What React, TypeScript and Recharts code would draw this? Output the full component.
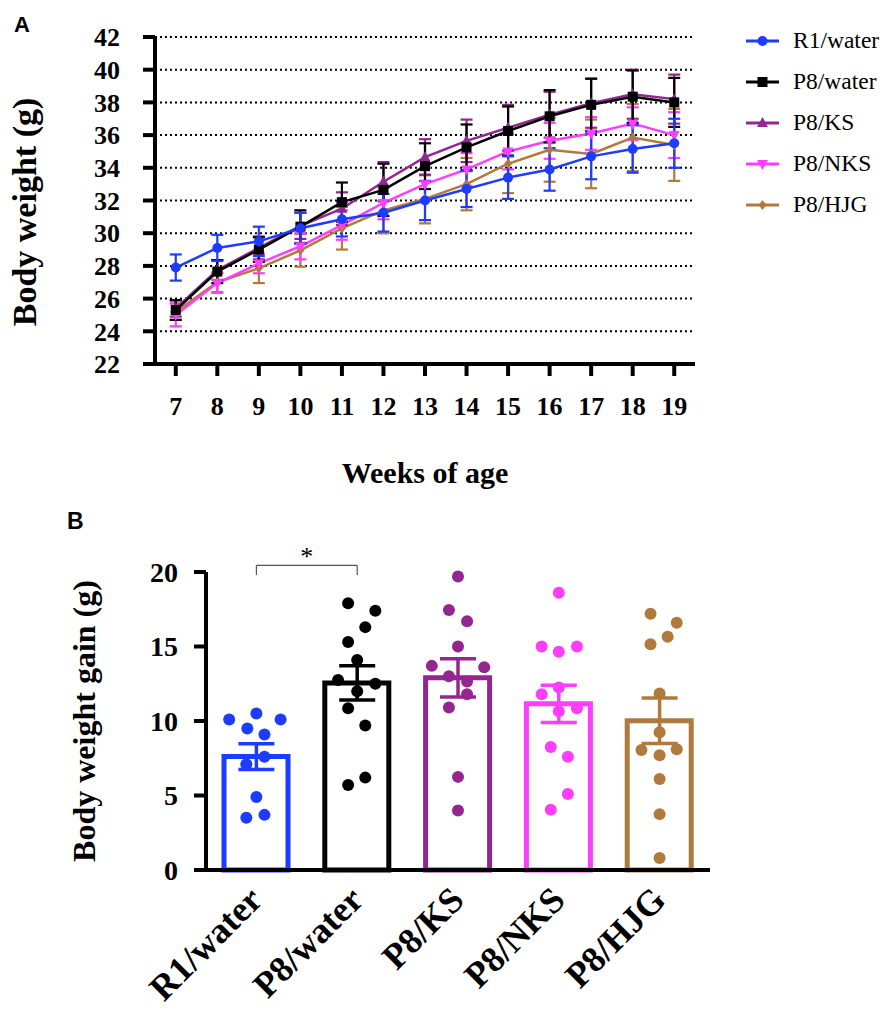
import React from "react";
import {
  LineChart,
  Line,
  XAxis,
  YAxis,
  CartesianGrid,
  ErrorBar,
  Legend,
  ComposedChart,
  Bar,
  Cell,
  Scatter,
  ReferenceLine,
} from "recharts";

const serif = "'Liberation Serif', 'Times New Roman', Times, serif";
const sans = "'Liberation Sans', Arial, Helvetica, sans-serif";

const BLUE = "#1e3cff";
const BLACK = "#000000";
const PURPLE = "#93278f";
const PINK = "#ff3dff";
const BROWN = "#b07a3c";

// ---- Panel A: body weight by week (mean, SEM) ----
const weeks = [7, 8, 9, 10, 11, 12, 13, 14, 15, 16, 17, 18, 19];
const weightTicks = [22, 24, 26, 28, 30, 32, 34, 36, 38, 40, 42];

const r1Water = [27.9, 29.1, 29.5, 30.3, 30.85, 31.25, 32.0, 32.7, 33.4, 33.9, 34.7, 35.15, 35.5];
const r1WaterSem = [0.8, 0.8, 0.9, 0.95, 1.05, 1.15, 1.2, 1.1, 1.3, 1.3, 1.4, 1.45, 1.5];
const p8Water = [25.3, 27.65, 29.0, 30.4, 31.9, 32.65, 34.1, 35.25, 36.25, 37.15, 37.85, 38.35, 38.0];
const p8WaterSem = [0.6, 0.7, 0.75, 1.0, 1.2, 1.6, 1.4, 1.4, 1.5, 1.6, 1.6, 1.6, 1.5];
const p8Ks = [25.4, 27.75, 29.1, 30.45, 31.5, 33.15, 34.65, 35.65, 36.45, 37.25, 37.95, 38.5, 38.2];
const p8KsSem = [0.5, 0.6, 0.7, 0.8, 1.0, 1.2, 1.1, 1.3, 1.4, 1.4, 1.5, 1.5, 1.5];
const p8Nks = [25.0, 26.95, 28.15, 29.2, 30.5, 31.85, 33.0, 33.9, 35.0, 35.65, 36.1, 36.7, 36.0];
const p8NksSem = [0.7, 0.6, 0.6, 0.8, 0.9, 1.0, 1.0, 1.0, 1.1, 1.1, 1.0, 1.0, 1.4];
const p8Hjg = [25.2, 27.0, 27.85, 28.95, 30.3, 31.4, 32.1, 33.0, 34.25, 35.1, 34.85, 35.85, 35.4];
const p8HjgSem = [0.5, 0.6, 0.9, 1.0, 1.3, 1.4, 1.5, 1.6, 1.8, 1.95, 2.1, 2.05, 2.2];

const SERIES = [
  { key: "r1", name: "R1/water", values: r1Water, sem: r1WaterSem, color: BLUE, marker: "circle" },
  { key: "p8", name: "P8/water", values: p8Water, sem: p8WaterSem, color: BLACK, marker: "square" },
  { key: "ks", name: "P8/KS", values: p8Ks, sem: p8KsSem, color: PURPLE, marker: "up" },
  { key: "nks", name: "P8/NKS", values: p8Nks, sem: p8NksSem, color: PINK, marker: "down" },
  { key: "hjg", name: "P8/HJG", values: p8Hjg, sem: p8HjgSem, color: BROWN, marker: "diamond" },
];

const weightRows = weeks.map((week, i) => {
  const row: Record<string, number> = { week };
  SERIES.forEach((s) => {
    row[s.key] = s.values[i];
    row[s.key + "Err"] = s.sem[i];
  });
  return row;
});

// ---- Panel B: body weight gain per animal ----
const groups = ["R1/water", "P8/water", "P8/KS", "P8/NKS", "P8/HJG"];
const groupColors = [BLUE, BLACK, PURPLE, PINK, BROWN];
const gainTicks = [0, 5, 10, 15, 20];

const r1Gain = [10.1, 10.5, 10.1, 9.5, 9.1, 7.6, 7.1, 4.9, 3.5, 3.7];
const p8Gain = [17.9, 17.4, 16.3, 15.3, 14.1, 12.75, 12.5, 12.0, 10.85, 9.7, 6.2, 5.7];
const ksGain = [19.7, 17.45, 16.7, 15.0, 13.7, 13.6, 13.0, 12.65, 11.8, 10.9, 6.25, 4.0];
const nksGain = [18.6, 15.0, 14.65, 15.0, 12.25, 11.8, 10.65, 10.85, 8.25, 7.6, 5.1, 4.05];
const hjgGain = [17.2, 16.6, 15.65, 15.15, 11.85, 9.25, 8.05, 7.7, 8.1, 6.1, 3.75, 0.8];

// horizontal scatter of each dot, as a fraction of one category
const r1Spread = [-0.27, 0, 0.24, -0.09, 0.08, 0.08, -0.1, 0, -0.1, 0.08];
const p8Spread = [-0.09, 0.18, 0.08, -0.09, 0, -0.19, 0.18, 0, -0.09, 0.08, 0.08, -0.09];
const ksSpread = [0, -0.09, 0.09, 0, -0.26, 0.26, -0.09, 0.09, 0.09, -0.09, 0, 0];
const nksSpread = [0, -0.17, 0, 0.18, 0, -0.17, 0, 0.18, -0.08, 0.09, 0.09, -0.08];
const hjgSpread = [-0.09, 0.17, 0.08, -0.09, 0, 0, -0.18, 0, 0.17, 0, 0, 0];

const gains = [r1Gain, p8Gain, ksGain, nksGain, hjgGain];
const spreads = [r1Spread, p8Spread, ksSpread, nksSpread, hjgSpread];

const mean = (a: number[]) => a.reduce((s, v) => s + v, 0) / a.length;
const semOf = (a: number[]) => {
  const m = mean(a);
  const sd = Math.sqrt(a.reduce((s, v) => s + (v - m) ** 2, 0) / (a.length - 1));
  return sd / Math.sqrt(a.length);
};

const gainRows = groups.map((group, i) => ({
  group,
  x: i + 1,
  mean: mean(gains[i]),
  sem: semOf(gains[i]),
}));

function Marker({ cx, cy, shape, color }: any) {
  if (cx == null || cy == null) return null;
  if (shape === "circle") return <circle cx={cx} cy={cy} r={5} fill={color} />;
  if (shape === "square") return <rect x={cx - 5} y={cy - 5} width={10} height={10} fill={color} />;
  if (shape === "up")
    return <path d={`M${cx},${cy - 6}L${cx + 5.5},${cy + 4}L${cx - 5.5},${cy + 4}Z`} fill={color} />;
  if (shape === "down")
    return <path d={`M${cx},${cy + 6}L${cx + 5.5},${cy - 4}L${cx - 5.5},${cy - 4}Z`} fill={color} />;
  return <path d={`M${cx},${cy - 5}L${cx + 4},${cy}L${cx},${cy + 5}L${cx - 4},${cy}Z`} fill={color} />;
}

function WeightLegend() {
  return (
    <div style={{ fontFamily: serif, fontSize: 23.5, color: "#000" }}>
      {SERIES.map((s) => (
        <div key={s.key} style={{ display: "flex", alignItems: "center", height: 41 }}>
          <svg width={48} height={16} style={{ marginRight: 3 }}>
            <line x1={4} y1={8} x2={37} y2={8} stroke={s.color} strokeWidth={3} />
            <Marker cx={20.5} cy={8} shape={s.marker} color={s.color} />
          </svg>
          <span>{s.name}</span>
        </div>
      ))}
    </div>
  );
}

function WeightAxisTitle() {
  return (
    <text
      x={36}
      y={212}
      transform="rotate(-90, 36, 212)"
      textAnchor="middle"
      fontFamily={serif}
      fontWeight="bold"
      fontSize={34}
      fill="#000"
    >
      Body weight (g)
    </text>
  );
}

function GroupTick({ x, y, payload }: any) {
  const tx = x + 8;
  const ty = y + 32;
  return (
    <text
      x={tx}
      y={ty}
      transform={`rotate(-45, ${tx}, ${ty})`}
      textAnchor="end"
      fontFamily={serif}
      fontWeight="bold"
      fontSize={36}
      fill="#000"
    >
      {payload.value}
    </text>
  );
}

const tickFont = { fill: "#000", fontSize: 26, fontWeight: "bold", fontFamily: serif };
const axisStroke = { stroke: "#000", strokeWidth: 4 };

export default function App() {
  return (
    <div
      style={{
        position: "absolute",
        left: 0,
        top: 0,
        width: 884,
        height: 1010,
        background: "#fff",
        overflow: "hidden",
      }}
    >
      <div style={{ position: "absolute", left: 14, top: 14, fontFamily: sans, fontWeight: "bold", fontSize: 22, lineHeight: 1 }}>
        A
      </div>
      <div style={{ position: "absolute", left: 67, top: 510, fontFamily: sans, fontWeight: "bold", fontSize: 23, lineHeight: 1 }}>
        B
      </div>

      <div style={{ position: "absolute", left: 0, top: 0 }}>
        <LineChart width={884} height={500} data={weightRows} margin={{ top: 37, right: 189, bottom: 0, left: 0 }}>
          <CartesianGrid vertical={false} stroke="#000" strokeWidth={2} strokeDasharray="2 3" />
          <XAxis
            dataKey="week"
            type="number"
            domain={[6.5, 19.5]}
            ticks={weeks}
            interval={0}
            height={136}
            tick={tickFont}
            tickSize={12}
            tickMargin={21}
            axisLine={axisStroke}
            tickLine={axisStroke}
            label={{
              value: "Weeks of age",
              position: "insideBottom",
              offset: 17,
              fill: "#000",
              fontSize: 30,
              fontWeight: "bold",
              fontFamily: serif,
            }}
          />
          <YAxis
            type="number"
            domain={[22, 42]}
            ticks={weightTicks}
            interval={0}
            width={155}
            tick={tickFont}
            tickSize={12}
            tickMargin={23}
            axisLine={axisStroke}
            tickLine={axisStroke}
            label={{ content: () => <WeightAxisTitle /> }}
          />
          <Legend
            layout="vertical"
            align="center"
            verticalAlign="middle"
            wrapperStyle={{ left: 742, top: 20, width: 142 }}
            content={() => <WeightLegend />}
          />
          {[...SERIES].reverse().map((s) => (
            <Line
              key={s.key}
              dataKey={s.key}
              name={s.name}
              type="linear"
              stroke={s.color}
              strokeWidth={2.5}
              isAnimationActive={false}
              dot={(p: any) => <Marker key={`${s.key}-${p.index}`} cx={p.cx} cy={p.cy} shape={s.marker} color={s.color} />}
              activeDot={false}
            >
              <ErrorBar dataKey={s.key + "Err"} direction="y" width={6} strokeWidth={2.2} stroke={s.color} />
            </Line>
          ))}
        </LineChart>
      </div>

      <div style={{ position: "absolute", left: 0, top: 500 }}>
        <ComposedChart width={884} height={510} data={gainRows} margin={{ top: 72, right: 174, bottom: 0, left: 0 }}>
          <XAxis
            xAxisId="cat"
            dataKey="group"
            type="category"
            interval={0}
            height={140}
            tickSize={0}
            tickMargin={0}
            tickLine={false}
            axisLine={{ stroke: "#000", strokeWidth: 4 }}
            tick={<GroupTick />}
          />
          <XAxis xAxisId="num" dataKey="x" type="number" domain={[0.5, 5.5]} hide />
          <YAxis
            type="number"
            domain={[0, 20]}
            ticks={gainTicks}
            interval={0}
            width={206}
            tick={{ ...tickFont, fontSize: 28 }}
            tickSize={12}
            tickMargin={16}
            axisLine={{ stroke: "#000", strokeWidth: 4 }}
            tickLine={{ stroke: "#000", strokeWidth: 4 }}
            label={{
              value: "Body weight gain (g)",
              angle: -90,
              position: "insideLeft",
              offset: 84,
              style: { textAnchor: "middle" },
              fill: "#000",
              fontSize: 32,
              fontWeight: "bold",
              fontFamily: serif,
            }}
          />
          <Bar xAxisId="cat" dataKey="mean" barSize={64} fill="#fff" strokeWidth={5} isAnimationActive={false}>
            {gainRows.map((r, i) => (
              <Cell key={r.group} stroke={groupColors[i]} />
            ))}
          </Bar>
          {gainRows.map((r, i) => (
            <Scatter
              key={`err-${r.group}`}
              xAxisId="num"
              data={[r]}
              dataKey="mean"
              isAnimationActive={false}
              shape={() => <g />}
            >
              <ErrorBar dataKey="sem" direction="y" width={18} strokeWidth={3.5} stroke={groupColors[i]} />
            </Scatter>
          ))}
          {gains.map((vals, i) => (
            <Scatter
              key={`dots-${groups[i]}`}
              xAxisId="num"
              data={vals.map((v, j) => ({ x: i + 1 + spreads[i][j], gain: v }))}
              dataKey="gain"
              fill={groupColors[i]}
              isAnimationActive={false}
              shape={(p: any) => <circle cx={p.cx} cy={p.cy} r={6} fill={groupColors[i]} />}
            />
          ))}
          <ReferenceLine
            xAxisId="num"
            ifOverflow="visible"
            segment={[{ x: 1, y: 20.45 }, { x: 2, y: 20.45 }]}
            stroke="#555"
            strokeWidth={1.2}
            label={{ value: "*", position: "top", offset: 0, fill: "#000", fontSize: 26, fontFamily: serif }}
          />
          <ReferenceLine
            xAxisId="num"
            ifOverflow="visible"
            segment={[{ x: 1, y: 20.45 }, { x: 1, y: 19.8 }]}
            stroke="#555"
            strokeWidth={1.2}
          />
          <ReferenceLine
            xAxisId="num"
            ifOverflow="visible"
            segment={[{ x: 2, y: 20.45 }, { x: 2, y: 19.8 }]}
            stroke="#555"
            strokeWidth={1.2}
          />
        </ComposedChart>
      </div>
    </div>
  );
}
